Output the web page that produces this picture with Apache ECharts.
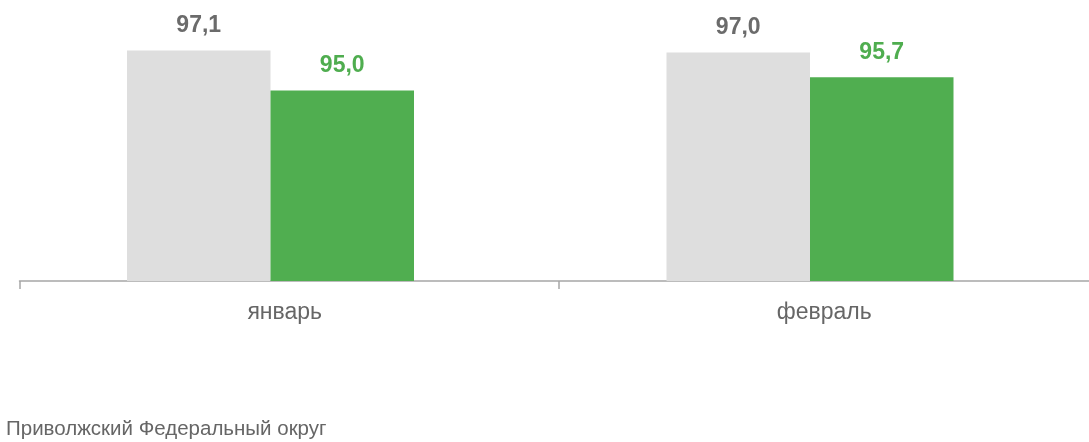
<!DOCTYPE html>
<html>
<head>
    <meta charset="utf-8">
    <script src="https://cdn.jsdelivr.net/npm/echarts@6/dist/echarts.min.js"></script>
    <style>
        body { margin: 0; background: #fff; }
    </style>
</head>
<body>
<div id="main" style="width: 1089px;height:442px;"></div>
<script type="text/javascript">
    // данные
    var months = ['январь', 'февраль'];
    var grayValues = [97.1, 97.0];
    var greenValues = [95.0, 95.7];
    var regionName = 'Приволжский Федеральный округ';

    var fmt = function (p) { return p.value.toFixed(1).replace('.', ','); };

    var myChart = echarts.init(document.getElementById('main'));
    myChart.setOption({
        animation: false,
        textStyle: { fontFamily: 'Liberation Sans, Arial, sans-serif' },
        title: {
            text: regionName,
            left: 1,
            top: 414,
            textStyle: { fontSize: 20.5, fontWeight: 'normal', color: '#666666' }
        },
        grid: [
            // сетка для столбиков
            { left: 0.75, width: 1079, top: 33.4, bottom: 161, outerBoundsMode: 'none' },
            // сетка для оси с подписями (уходит за правый край)
            { left: 19.5, width: 1079, top: 33.4, bottom: 161, outerBoundsMode: 'none' }
        ],
        xAxis: [
            {
                type: 'category', gridIndex: 0, data: months,
                axisLine: { show: false }, axisTick: { show: false }, axisLabel: { show: false }
            },
            {
                type: 'category', gridIndex: 1, data: months, boundaryGap: true,
                axisLine: { show: true, lineStyle: { color: '#a6a6a6', width: 1.5 } },
                axisTick: { show: true, alignWithLabel: false, length: 8, lineStyle: { color: '#a6a6a6', width: 1.5 } },
                axisLabel: { fontSize: 23, color: '#666666', margin: 20, padding: [0, 9, 0, 0] }
            }
        ],
        yAxis: [
            { type: 'value', gridIndex: 0, min: 85, max: 98, show: false, splitLine: { show: false } },
            { type: 'value', gridIndex: 1, min: 85, max: 98, show: false, splitLine: { show: false } }
        ],
        series: [
            {
                type: 'bar', xAxisIndex: 0, yAxisIndex: 0,
                data: grayValues, barWidth: 143.5, barGap: '0%',
                itemStyle: { color: '#dedede' },
                label: {
                    show: true, position: 'top', distance: 13, formatter: fmt,
                    fontSize: 23, fontWeight: 'bold', color: '#6b6b6b'
                }
            },
            {
                type: 'bar', xAxisIndex: 0, yAxisIndex: 0,
                data: greenValues, barWidth: 143.5, barGap: '0%',
                itemStyle: { color: '#50ae50' },
                label: {
                    show: true, position: 'top', distance: 13, formatter: fmt,
                    fontSize: 23, fontWeight: 'bold', color: '#4fad4f'
                }
            }
        ]
    });
</script>
</body>
</html>
